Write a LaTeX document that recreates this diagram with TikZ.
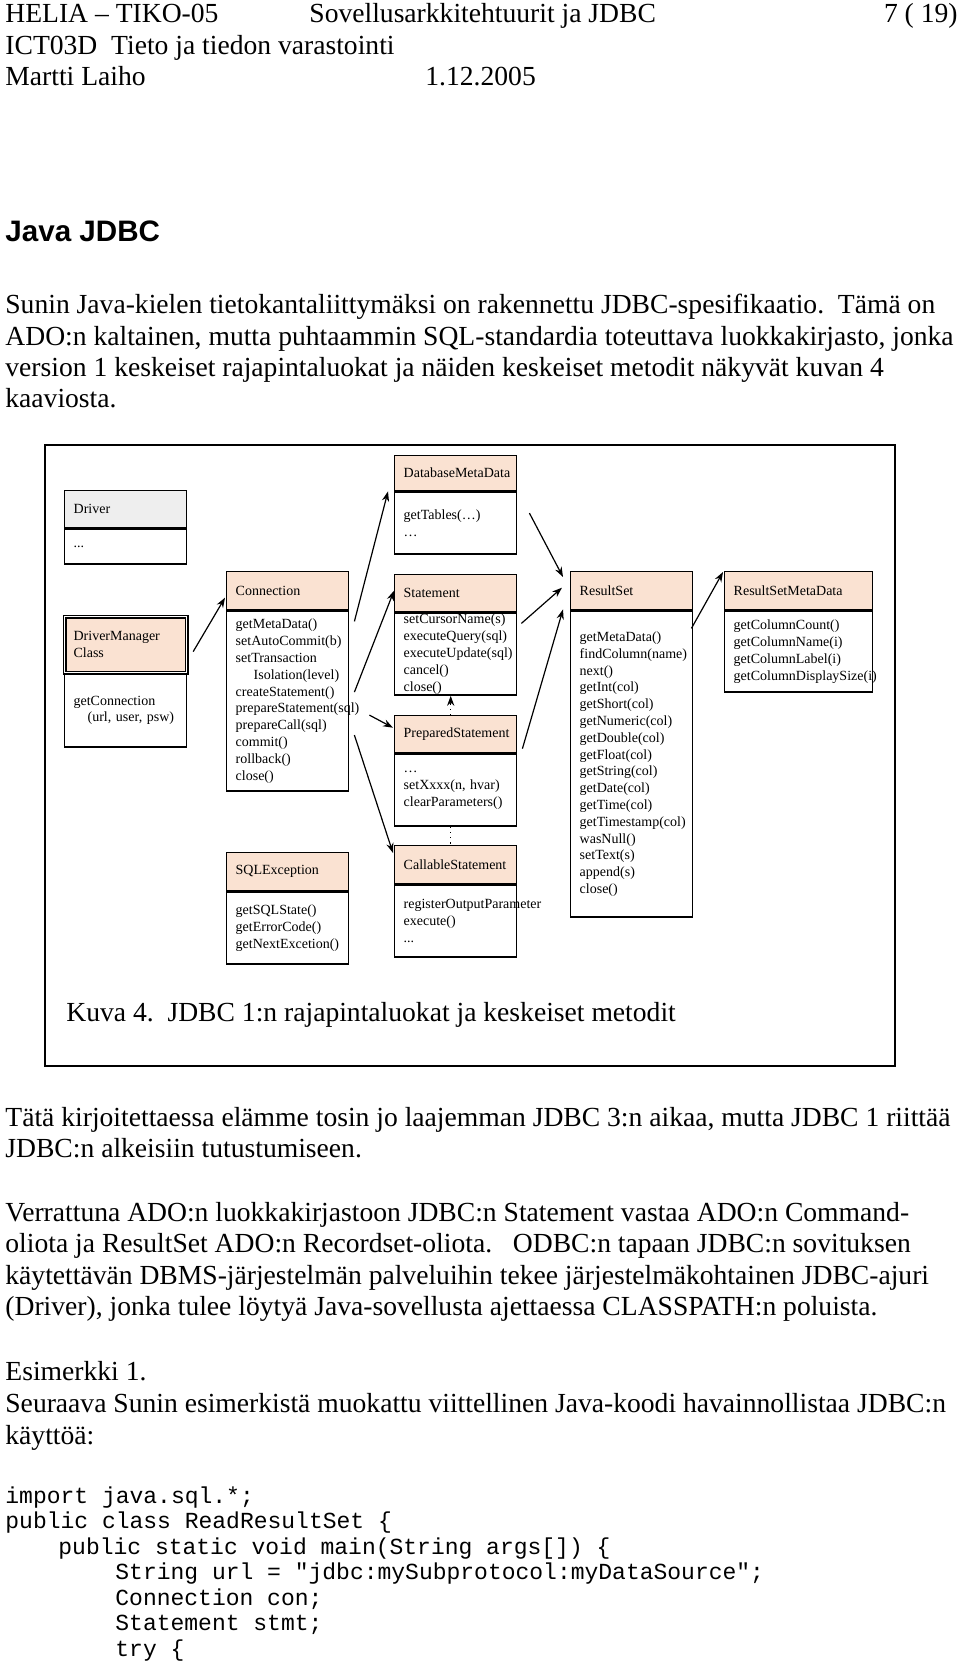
\documentclass[tikz,border=0pt]{standalone}
\usepackage{fontspec}
\setmainfont{Liberation Serif}
\setsansfont{Liberation Sans}
\setmonofont{Liberation Mono}
\usetikzlibrary{positioning,arrows.meta}
\definecolor{peach}{RGB}{250,226,210}
\definecolor{lightgrey}{RGB}{238,238,238}
\tikzset{txt/.style = {anchor=base west, inner sep=0pt, font=\fontsize{13.8}{16}\selectfont}}
\tikzset{src/.style = {anchor=base west, inner sep=0pt, font=\ttfamily\fontsize{11.5}{14}\selectfont}}
\tikzset{cls/.style = {draw, line width=0.7pt, text width=52pt, inner xsep=4.5pt, inner ysep=0pt, align=left, font=\fontsize{7}{8.4}\selectfont}}
\tikzset{head/.style = {cls, fill=peach, anchor=north west}}
\tikzset{members/.style = {cls, below=0pt of #1}}
\tikzset{assoc/.style = {->, line width=0.6pt}}

\begin{document}
\begin{tikzpicture}[x=0.5pt, y=-0.5pt, >={Stealth[length=5pt,width=3.6pt]}]
  \useasboundingbox (0,0) rectangle (960,1663);

  % page header
  \node [txt] (hd1) at (5,23) {HELIA – TIKO-05};
  \node [txt] (hd2) at (309,23) {Sovellusarkkitehtuurit ja JDBC};
  \node [txt, anchor=base east] (hd3) at (958,23) {7 ( 19)};
  \node [txt] (hd4) at (5,55) {ICT03D\ \ Tieto ja tiedon varastointi};
  \node [txt] (hd5) at (5,86) {Martti Laiho};
  \node [txt] (hd6) at (425,86) {1.12.2005};

  \node [txt, font=\sffamily\bfseries\fontsize{14.8}{17}\selectfont] (title) at (5,242) {Java JDBC};

  \node [txt] (p1) at (5,314) {Sunin Java-kielen tietokantaliittymäksi on rakennettu JDBC-spesifikaatio.\ \ Tämä on};
  \node [txt] (p2) at (5,346) {ADO:n kaltainen, mutta puhtaammin SQL-standardia toteuttava luokkakirjasto, jonka};
  \node [txt] (p3) at (5,377) {version 1 keskeiset rajapintaluokat ja näiden keskeiset metodit näkyvät kuvan 4};
  \node [txt] (p4) at (5,408) {kaaviosta.};

  % figure frame
  \draw [line width=1pt] (45,445) rectangle (895,1066);

  \node [head, fill=lightgrey, minimum height=18.5pt] (drvh) at (64,490) {Driver};
  \node [members=drvh, minimum height=17.5pt] (drvb) {...};

  \node [head, double, line width=0.6pt, double distance=0.8pt, minimum height=28pt] (dmh) at (64,616) {DriverManager\\Class};
  \node [members=dmh, minimum height=36.5pt] (dmb) {getConnection\\\hspace*{7pt}(url, user, psw)};

  \node [head, minimum height=19pt] (connh) at (226,571) {Connection};
  \node [members=connh, minimum height=90pt] (connb) {getMetaData()\\setAutoCommit(b)\\setTransaction\\\hspace*{9pt}Isolation(level)\\createStatement()\\prepareStatement(sql)\\prepareCall(sql)\\commit()\\rollback()\\close()};

  \node [head, minimum height=19pt] (sqlh) at (226,852) {SQLException};
  \node [members=sqlh, minimum height=36pt] (sqlb) {getSQLState()\\getErrorCode()\\getNextExcetion()};

  \node [head, minimum height=17.5pt] (dbmdh) at (394,455) {DatabaseMetaData};
  \node [members=dbmdh, minimum height=31pt] (dbmdb) {getTables(…)\\…};

  \node [head, minimum height=18.5pt] (stmth) at (394,574) {Statement};
  \node [members=stmth, minimum height=41pt] (stmtb) {setCursorName(s)\\executeQuery(sql)\\executeUpdate(sql)\\cancel()\\close()};

  \node [head, minimum height=18.5pt] (prsh) at (394,715) {PreparedStatement};
  \node [members=prsh, minimum height=36pt] (prsb) {…\\setXxxx(n, hvar)\\clearParameters()};

  \node [head, minimum height=19pt] (callh) at (394,845) {CallableStatement};
  \node [members=callh, minimum height=36pt] (callb) {registerOutputParameter\\execute()\\...};

  \node [head, minimum height=19pt] (rsh) at (570,571) {ResultSet};
  \node [members=rsh, minimum height=153pt] (rsb) {getMetaData()\\findColumn(name)\\next()\\getInt(col)\\getShort(col)\\getNumeric(col)\\getDouble(col)\\getFloat(col)\\getString(col)\\getDate(col)\\getTime(col)\\getTimestamp(col)\\wasNull()\\setText(s)\\append(s)\\close()};

  \node [head, text width=65pt, minimum height=19pt] (rsmdh) at (724,571) {ResultSetMetaData};
  \node [members=rsmdh, text width=65pt, minimum height=40.5pt] (rsmdb) {getColumnCount()\\getColumnName(i)\\getColumnLabel(i)\\getColumnDisplaySize(i)};

  \draw [assoc] ([shift={(6,7)}]dmh.east) -- ([shift={(-1,7)}]connh.west);
  \draw [assoc] ([shift={(5,11)}]connb.north east) -- ([shift={(-6,0)}]dbmdh.south west);
  \draw [assoc] ([shift={(5,-9)}]connb.east) -- ([shift={(0,-2.5)}]stmth.west);
  \draw [assoc] ([shift={(20,14)}]connb.east) -- ([shift={(-1,-6.5)}]prsh.west);
  \draw [assoc] ([shift={(5,34)}]connb.east) -- ([shift={(-1,8)}]callh.north west);
  \draw [assoc] ([shift={(12,-10)}]dbmdb.east) -- ([shift={(-7,6)}]rsh.north west);
  \draw [assoc] ([shift={(4,11)}]stmtb.north east) -- ([shift={(-8,-3)}]rsh.west);
  \draw [assoc] ([shift={(5,14.5)}]prsh.east) -- ([shift={(-7,-1)}]rsh.south west);
  \draw [assoc] ([shift={(-2,18)}]rsb.north east) -- ([shift={(-1,1)}]rsmdh.north west);
  \draw [assoc, dotted] ([shift={(-5,0)}]prsh.north) -- ([shift={(-5,0)}]stmtb.south);
  \draw [line width=0.6pt, dotted] ([shift={(-5,0)}]prsb.south) -- ([shift={(-5,0)}]callh.north);

  \node [txt] (caption) at (66,1021) {Kuva 4.\ \ JDBC 1:n rajapintaluokat ja keskeiset metodit};

  \node [txt] (q1) at (5,1126) {Tätä kirjoitettaessa elämme tosin jo laajemman JDBC 3:n aikaa, mutta JDBC 1 riittää};
  \node [txt] (q2) at (5,1157) {JDBC:n alkeisiin tutustumiseen.};
  \node [txt] (r1) at (5,1221) {Verrattuna ADO:n luokkakirjastoon JDBC:n Statement vastaa ADO:n Command-};
  \node [txt] (r2) at (5,1252) {oliota ja ResultSet ADO:n Recordset-oliota.\ \ \ ODBC:n tapaan JDBC:n sovituksen};
  \node [txt] (r3) at (5,1284) {käytettävän DBMS-järjestelmän palveluihin tekee järjestelmäkohtainen JDBC-ajuri};
  \node [txt] (r4) at (5,1315) {(Driver), jonka tulee löytyä Java-sovellusta ajettaessa CLASSPATH:n poluista.};
  \node [txt] (s1) at (5,1380) {Esimerkki 1.};
  \node [txt] (s2) at (5,1412) {Seuraava Sunin esimerkistä muokattu viittellinen Java-koodi havainnollistaa JDBC:n};
  \node [txt] (s3) at (5,1444) {käyttöä:};

  % code
  \node [src] (c1) at (5,1503) {import java.sql.*;};
  \node [src] (c2) at (5,1528.5) {public class ReadResultSet \{};
  \node [src] (c3) at (58,1554) {public static void main(String args[]) \{};
  \node [src] (c4) at (115,1579.5) {String url = "jdbc:mySubprotocol:myDataSource";};
  \node [src] (c5) at (115,1605) {Connection con;};
  \node [src] (c6) at (115,1630.5) {Statement stmt;};
  \node [src] (c7) at (115,1656) {try \{};
\end{tikzpicture}
\end{document}
